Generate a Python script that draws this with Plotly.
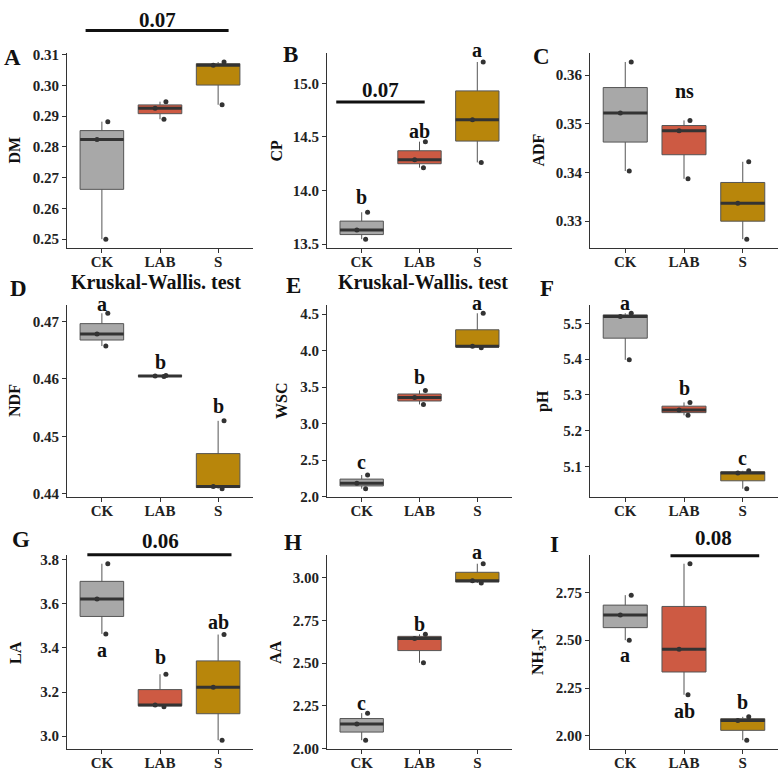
import numpy as np
import plotly.graph_objects as go

groups = ["CK", "LAB", "S"]

# values per group [CK, LAB, S] (3 replicates each)
DM = [[0.2500, 0.2824, 0.2882], [0.2890, 0.2926, 0.2947], [0.2937, 0.3065, 0.3076]]
CP = [[13.547, 13.633, 13.798], [14.214, 14.287, 14.456], [14.263, 14.660, 15.199]]
ADF = [[0.3403, 0.3522, 0.3627], [0.3387, 0.3486, 0.3507], [0.3263, 0.3337, 0.3422]]
NDF = [[0.4657, 0.4678, 0.4714], [0.4604, 0.4605, 0.4606], [0.4409, 0.4413, 0.4527]]
WSC = [[2.107, 2.183, 2.294], [3.263, 3.357, 3.455], [4.040, 4.060, 4.513]]
PH = [[5.398, 5.519, 5.528], [5.243, 5.258, 5.279], [5.038, 5.082, 5.088]]
LA = [[3.464, 3.622, 3.782], [3.134, 3.142, 3.281], [2.982, 3.222, 3.461]]
AA = [[2.050, 2.145, 2.208], [2.502, 2.644, 2.668], [2.968, 2.980, 3.080]]
NH3N = [[2.500, 2.631, 2.735], [2.215, 2.453, 2.899], [1.978, 2.081, 2.100]]

# tick values per panel
ticks_DM = [0.25, 0.26, 0.27, 0.28, 0.29, 0.30, 0.31]
ticks_CP = [13.5, 14.0, 14.5, 15.0]
ticks_ADF = [0.33, 0.34, 0.35, 0.36]
ticks_NDF = [0.44, 0.45, 0.46, 0.47]
ticks_WSC = [2.0, 2.5, 3.0, 3.5, 4.0, 4.5]
ticks_PH = [5.1, 5.2, 5.3, 5.4, 5.5]
ticks_LA = [3.0, 3.2, 3.4, 3.6, 3.8]
ticks_AA = [2.00, 2.25, 2.50, 2.75, 3.00]
ticks_NH3N = [2.00, 2.25, 2.50, 2.75]

panels = [
    ("A", "DM", DM, ticks_DM, "{:.2f}"),
    ("B", "CP", CP, ticks_CP, "{:.1f}"),
    ("C", "ADF", ADF, ticks_ADF, "{:.2f}"),
    ("D", "NDF", NDF, ticks_NDF, "{:.2f}"),
    ("E", "WSC", WSC, ticks_WSC, "{:.1f}"),
    ("F", "pH", PH, ticks_PH, "{:.1f}"),
    ("G", "LA", LA, ticks_LA, "{:.1f}"),
    ("H", "AA", AA, ticks_AA, "{:.2f}"),
    ("I", "NH<sub>3</sub>-N", NH3N, ticks_NH3N, "{:.2f}"),
]

# significance letters: (panel, group index, y value, text)
letters = [
    (1, 2, 15.31, "a"), (1, 1, 14.553, "ab"), (1, 0, 13.936, "b"),
    (2, 1, 0.3568, "ns"),
    (3, 0, 0.4730, "a"), (3, 1, 0.4630, "b"), (3, 2, 0.4552, "b"),
    (4, 0, 2.476, "c"), (4, 1, 3.641, "b"), (4, 2, 4.652, "a"),
    (5, 0, 5.557, "a"), (5, 1, 5.320, "b"), (5, 2, 5.124, "c"),
    (6, 0, 3.390, "a"), (6, 1, 3.360, "b"), (6, 2, 3.516, "ab"),
    (7, 0, 2.270, "c"), (7, 1, 2.728, "b"), (7, 2, 3.149, "a"),
    (8, 0, 2.424, "a"), (8, 1, 2.130, "ab"), (8, 2, 2.178, "b"),
]
# p-value bars: (panel, x start, x end, line y, label x, label y, text)
pbars = [
    (0, -0.28, 2.18, 0.3178, 0.95, 0.3213, "0.07"),
    (1, -0.44, 1.09, 14.826, 0.33, 14.942, "0.07"),
    (6, -0.25, 2.23, 3.823, 1.00, 3.884, "0.06"),
    (8, 0.77, 2.28, 2.940, 1.50, 3.033, "0.08"),
]

W, H = 779, 775
FONT = "Liberation Serif"
fills = ["#A8A8A8", "#CD5A43", "#B8860B"]
col_x = [(67, 253), (327, 512), (590, 778)]
row_y = [(48, 246.5), (304, 500.5), (559, 756.7)]
title_x = [15, 277, 539, 15, 282, 543, 16, 276, 539]
letter_pos = [(12, 52), (290, 49), (541, 51), (18, 288), (293, 285), (547, 288),
              (21, 543), (293, 546), (554, 548)]

fig = go.Figure()
annotations = []
shapes = []
ranges = []

for k, (plet, ylab, vals, ticks, fmt) in enumerate(panels):
    r, c = divmod(k, 3)
    sfx = "" if k == 0 else str(k + 1)
    xa, ya = "x" + sfx, "y" + sfx
    allv = np.concatenate([np.asarray(v, float) for v in vals])
    lo, hi = allv.min(), allv.max()
    pad = 0.05 * (hi - lo)
    lo, hi = lo - pad, hi + pad
    ranges.append((lo, hi))
    for i, v in enumerate(vals):
        fig.add_trace(go.Box(
            x=[i] * len(v), y=v, xaxis=xa, yaxis=ya, width=0.75,
            quartilemethod="inclusive", boxpoints="all", jitter=0.35, pointpos=0,
            fillcolor=fills[i], line=dict(color="#555555", width=1), whiskerwidth=0,
            marker=dict(color="#333333", size=5), showlegend=False, hoverinfo="skip"))
        med = float(np.median(v))
        fig.add_trace(go.Scatter(
            x=[i - 0.375, i + 0.375], y=[med, med], mode="lines",
            line=dict(color="#333333", width=3), xaxis=xa, yaxis=ya,
            showlegend=False, hoverinfo="skip"))
    x0, x1 = col_x[c]
    y0, y1 = row_y[r]
    axfont = dict(family=FONT, size=15, color="#222222", weight="bold")
    fig.update_layout(**{
        ("xaxis" + sfx): dict(domain=[x0 / W, x1 / W], anchor=ya, range=[-0.6, 2.6],
                              tickvals=[0, 1, 2], ticktext=groups, showline=True,
                              linecolor="#333333", linewidth=1, ticks="outside", ticklen=4,
                              tickcolor="#333333", showgrid=False, zeroline=False,
                              tickfont=axfont, fixedrange=True, ticklabelstandoff=-4),
        ("yaxis" + sfx): dict(domain=[1 - y1 / H, 1 - y0 / H], anchor=xa, range=[lo, hi],
                              tickvals=ticks, ticktext=[fmt.format(t) for t in ticks],
                              showline=True, linecolor="#333333", linewidth=1,
                              ticks="outside", ticklen=4, tickcolor="#333333",
                              showgrid=False, zeroline=False, tickfont=axfont,
                              fixedrange=True),
    })
    # axis title
    annotations.append(dict(text=ylab, xref="paper", yref="paper", x=title_x[k] / W,
                            y=1 - (y0 + y1) / 2 / H, textangle=-90, showarrow=False,
                            font=dict(family=FONT, size=16, color="#111111", weight="bold"),
                            xanchor="center", yanchor="middle"))
    # panel letter
    lx, ly = letter_pos[k]
    annotations.append(dict(text=plet, xref="paper", yref="paper", x=lx / W, y=1 - ly / H,
                            showarrow=False, xanchor="center", yanchor="middle",
                            font=dict(family=FONT, size=23, color="#111111", weight="bold")))


def dom(k, u, v):
    lo, hi = ranges[k]
    return (u + 0.6) / 3.2, (v - lo) / (hi - lo)


def refs(k):
    sfx = "" if k == 0 else str(k + 1)
    return "x" + sfx + " domain", "y" + sfx + " domain"


for k, gi, yv, txt in letters:
    xr, yr = refs(k)
    xd, yd = dom(k, gi, yv)
    annotations.append(dict(text=txt, xref=xr, yref=yr, x=xd, y=yd, showarrow=False,
                            xanchor="center", yanchor="middle",
                            font=dict(family=FONT, size=20, color="#111111", weight="bold")))

for k, xs, xe, ly, tx, ty, txt in pbars:
    xr, yr = refs(k)
    ax0, ay = dom(k, xs, ly)
    ax1, _ = dom(k, xe, ly)
    shapes.append(dict(type="line", xref=xr, yref=yr, x0=ax0, x1=ax1, y0=ay, y1=ay,
                       line=dict(color="#111111", width=3)))
    txd, tyd = dom(k, tx, ty)
    annotations.append(dict(text=txt, xref=xr, yref=yr, x=txd, y=tyd, showarrow=False,
                            xanchor="center", yanchor="middle",
                            font=dict(family=FONT, size=21, color="#111111", weight="bold")))

for px in (156, 423):
    annotations.append(dict(text="Kruskal-Wallis. test", xref="paper", yref="paper",
                            x=px / W, y=1 - 281 / H, showarrow=False,
                            xanchor="center", yanchor="middle",
                            font=dict(family=FONT, size=20, color="#111111", weight="bold")))

fig.update_layout(width=W, height=H, margin=dict(l=0, r=0, t=0, b=0),
                  paper_bgcolor="white", plot_bgcolor="white", showlegend=False,
                  annotations=annotations, shapes=shapes, boxmode="overlay",
                  font=dict(family=FONT))

fig.write_html("out.html")
